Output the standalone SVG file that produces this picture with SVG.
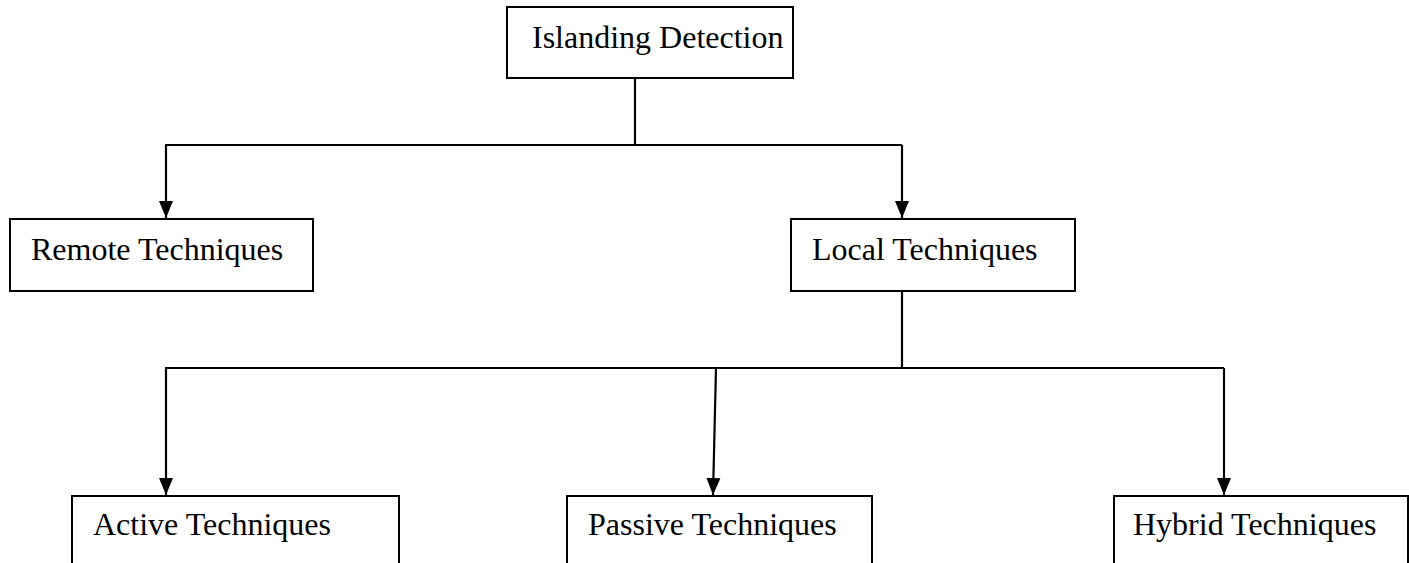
<svg xmlns="http://www.w3.org/2000/svg" width="1409" height="563" viewBox="0 0 1409 563">
<style>
.box{fill:#fff;stroke:#000;stroke-width:2}
.lbl{font-family:"Liberation Serif","Times New Roman",serif;font-size:32px;fill:#000}
.ln{fill:none;stroke:#000;stroke-width:2.2}
</style>
<defs>
<marker id="ah" markerUnits="userSpaceOnUse" markerWidth="18" markerHeight="16" viewBox="0 0 18 16" refX="17" refY="8" orient="auto">
<path d="M0,1 L17,8 L0,15 Z" fill="#000"/>
</marker>
</defs>
<rect width="1409" height="563" fill="#fff"/>
<g id="connectors">
<path class="ln" d="M635,78 V145"/>
<path class="ln" d="M165,145 H902"/>
<path class="ln" d="M166,145 V218" marker-end="url(#ah)"/>
<path class="ln" d="M902,145 V218" marker-end="url(#ah)"/>
<path class="ln" d="M902,291 V368"/>
<path class="ln" d="M165,368 H1224"/>
<path class="ln" d="M166,368 V495" marker-end="url(#ah)"/>
<path class="ln" d="M716,368 L713,495" marker-end="url(#ah)"/>
<path class="ln" d="M1224,368 V495" marker-end="url(#ah)"/>
</g>
<g id="islanding">
<rect class="box" x="507" y="7" width="286" height="71"/>
<text class="lbl" x="532" y="48">Islanding Detection</text>
</g>
<g id="remote">
<rect class="box" x="10" y="219" width="303" height="72"/>
<text class="lbl" x="31" y="260">Remote Techniques</text>
</g>
<g id="local">
<rect class="box" x="791" y="219" width="284" height="72"/>
<text class="lbl" x="812" y="260">Local Techniques</text>
</g>
<g id="active">
<rect class="box" x="72" y="496" width="327" height="80"/>
<text class="lbl" x="93" y="535">Active Techniques</text>
</g>
<g id="passive">
<rect class="box" x="567" y="496" width="305" height="80"/>
<text class="lbl" x="588" y="535">Passive Techniques</text>
</g>
<g id="hybrid">
<rect class="box" x="1114" y="496" width="294" height="80"/>
<text class="lbl" x="1133" y="535">Hybrid Techniques</text>
</g>
</svg>
